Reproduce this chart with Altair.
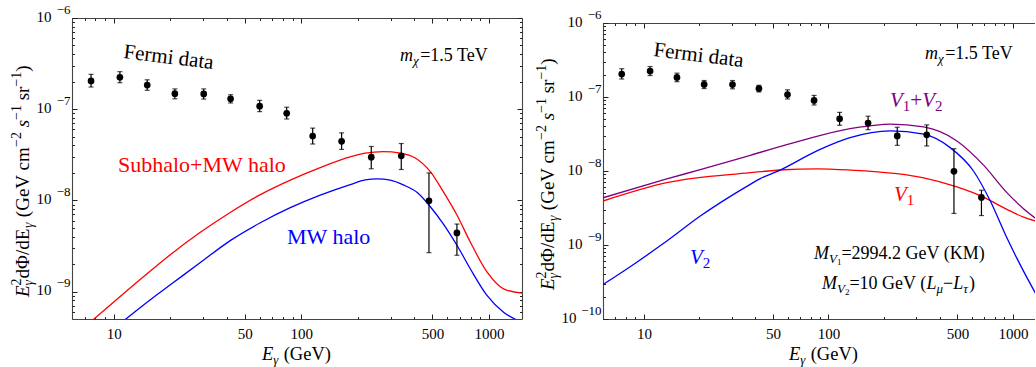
import math
import altair as alt
import pandas as pd

FONT = "Liberation Serif"
RED, BLUE, PURPLE = "#ff0000", "#0000ff", "#800080"
FRAME = "#444444"

# ---------------- data ----------------
fermi_E = [7.58, 10.8, 15.1, 21.2, 30.2, 42.0, 60.0, 83.6, 115.0, 164.0, 236.0, 341.0, 479.0, 675.0]
fermi_flux = [2.04e-7, 2.24e-7, 1.84e-7, 1.48e-7, 1.47e-7, 1.30e-7, 1.08e-7, 9.0e-8,
              5.08e-8, 4.44e-8, 2.98e-8, 3.08e-8, 9.9e-9, 4.4e-9]
fermi_lo = [1.75e-7, 1.95e-7, 1.61e-7, 1.30e-7, 1.29e-7, 1.17e-7, 9.4e-8, 7.8e-8,
            4.15e-8, 3.62e-8, 2.22e-8, 2.18e-8, 2.67e-9, 2.5e-9]
fermi_hi = [2.41e-7, 2.58e-7, 2.10e-7, 1.67e-7, 1.67e-7, 1.44e-7, 1.25e-7, 1.05e-7,
            6.2e-8, 5.5e-8, 3.9e-8, 4.2e-8, 2.0e-8, 5.5e-9]

# left panel curves
subhalo_E = [7.61, 10.99, 15.69, 19.88, 28.97, 42.4, 60.5, 87.4, 126.2, 182.4, 219.3, 273.5,
             337.0, 404.8, 487.0, 570.9, 675.0, 795.0, 976.0, 1196.0, 1500.0]
subhalo_flux = [4.72e-10, 9.06e-10, 1.68e-9, 2.50e-9, 4.46e-9, 7.51e-9, 1.156e-8, 1.67e-8,
                2.29e-8, 2.995e-8, 3.29e-8, 3.42e-8, 3.30e-8, 2.92e-8, 2.07e-8, 1.247e-8,
                6.90e-9, 3.50e-9, 1.64e-9, 1.07e-9, 9.6e-10]
mw_E = [11.22, 15.69, 20.3, 28.97, 42.4, 60.5, 87.4, 126.2, 182.4, 219.3, 254.0, 298.0,
        349.4, 415.0, 487.0, 570.9, 675.0, 795.0, 976.0, 1196.0, 1500.0]
mw_flux = [4.72e-10, 8.14e-10, 1.207e-9, 2.083e-9, 3.69e-9, 5.68e-9, 8.31e-9, 1.141e-8,
           1.49e-8, 1.674e-8, 1.72e-8, 1.665e-8, 1.479e-8, 1.216e-8, 8.52e-9, 5.53e-9,
           3.22e-9, 1.78e-9, 9.06e-10, 5.93e-10, 4.60e-10]

# right panel curves
v1v2_E = [6.0, 13.3, 20.2, 37.7, 70.3, 131.0, 168.5, 216.0, 328.0, 497.0, 693.0, 927.0,
          1141.0, 1337.0]
v1v2_flux = [4.35e-9, 7.8e-9, 1.045e-8, 1.63e-8, 2.55e-8, 3.74e-8, 4.07e-8, 4.29e-8,
             3.94e-8, 2.55e-8, 1.20e-8, 5.1e-9, 3.1e-9, 2.26e-9]
v1_E = [6.0, 13.3, 37.7, 42.7, 57.1, 86.6, 131.0, 235.0, 328.0, 497.0, 693.0, 927.0, 1141.0, 1337.0]
v1_flux = [3.93e-9, 6.95e-9, 9.5e-9, 9.8e-9, 1.04e-8, 1.07e-8, 1.03e-8, 9.2e-9, 8.1e-9,
           6.1e-9, 4.44e-9, 3.03e-9, 2.38e-9, 2.10e-9]
v2_E = [6.0, 8.78, 13.3, 20.2, 30.6, 37.7, 42.7, 54.8, 86.6, 131.0, 216.0, 328.0, 457.0,
        611.0, 754.0, 927.0, 1141.0, 1337.0]
v2_flux = [2.92e-10, 5.46e-10, 1.13e-9, 2.46e-9, 4.83e-9, 6.6e-9, 7.87e-9, 1.03e-8, 1.87e-8,
           2.82e-8, 3.48e-8, 3.14e-8, 2.07e-8, 1.0e-8, 3.93e-9, 1.25e-9, 4.43e-10, 2.14e-10]

# tick values
x_major = [10, 50, 100, 500, 1000]
x_minor = [6, 7, 8, 9, 20, 30, 40, 60, 70, 80, 90, 200, 300, 400, 600, 700, 800, 900]
yL_major = [1e-9, 1e-8, 1e-7, 1e-6]
yR_major = [1e-10, 1e-9, 1e-8, 1e-7, 1e-6]
yL_minor = [m * 10.0 ** e for e in (-10,) for m in (6, 7, 8, 9)] + \
           [m * 10.0 ** e for e in (-9, -8, -7) for m in range(2, 10)]
yR_minor = [m * 10.0 ** e for e in (-10, -9, -8, -7) for m in range(2, 10)]

fermi_df = pd.DataFrame({"E": fermi_E, "v": fermi_flux, "lo": fermi_lo, "hi": fermi_hi})

# ---------------- text helpers ----------------
W_REG = {' ': 0.25, '(': 0.333, ')': 0.333, '+': 0.564, '=': 0.564, '−': 0.564, '.': 0.25,
         '/': 0.278, 'G': 0.722, 'e': 0.444, 'V': 0.722, 'K': 0.722, 'M': 0.889, 'T': 0.611,
         'c': 0.444, 'm': 0.778, 's': 0.389, 'r': 0.333, 'd': 0.5, 'E': 0.611, 'Φ': 0.76}
W_IT = {'E': 0.611, 'M': 0.833, 'V': 0.611, 'L': 0.556, 'm': 0.722, 's': 0.389,
        'χ': 0.55, 'γ': 0.44, 'μ': 0.5, 'τ': 0.44, ' ': 0.25}


def text_width(t, size, italic):
    tbl = W_IT if italic else W_REG
    return size * sum(tbl.get(ch, 0.5) for ch in t)


def rich(segs, x0, y0, color="black", angle=0):
    a = math.radians(angle)
    ux, uy = math.cos(a), math.sin(a)
    upx, upy = math.sin(a), -math.cos(a)
    rows, d = [], 0.0
    for seg in segs:
        t, size, italic, shift = seg[:4]
        advance = seg[4] if len(seg) > 4 else True
        lead = len(t) - len(t.lstrip(" "))
        trail = len(t) - len(t.rstrip(" ")) if t.strip(" ") else 0
        core = t.strip(" ")
        d0 = d + lead * 0.25 * size
        if core:
            rows.append(dict(px=x0 + d0 * ux + shift * upx, py=y0 + d0 * uy + shift * upy,
                             text=core, size=size, color=color, italic=italic, angle=angle))
        if advance:
            d = d0 + text_width(core, size, italic) + trail * 0.25 * size
    return rows


def ytitle(x0, y0):
    M, S = 19, 14
    return rich([("E", M, True, 0), ("γ", S, True, -4, False), ("2", S, False, 8.5),
                  ("dΦ/dE", M, False, 0), ("γ", S, True, -4), (" (GeV cm", M, False, 0),
                  ("−2", S, False, 8.5), (" ", M, False, 0), ("s", M, True, 0),
                  ("−1", S, False, 8.5), (" sr", M, False, 0), ("−1", S, False, 8.5),
                  (")", M, False, 0)], x0, y0, angle=270)


def xtitle(x0, y0):
    return rich([("E", 18.5, True, 0), ("γ", 13, True, -4), (" (GeV)", 18.5, False, 0)], x0, y0)


def mchi(x0, y0):
    return rich([("m", 18, True, 0), ("χ", 13, True, -4), ("=1.5 TeV", 18, False, 0)], x0, y0)


def text_layers(rows):
    df = pd.DataFrame(rows)
    enc = dict(x=alt.X("px:Q", scale=None, axis=None), y=alt.Y("py:Q", scale=None, axis=None),
               text="text:N", size=alt.Size("size:Q", scale=None, legend=None),
               color=alt.Color("color:N", scale=None, legend=None),
               angle=alt.Angle("angle:Q", scale=None))
    base = alt.Chart(df)
    it = base.transform_filter("datum.italic").mark_text(
        align="left", baseline="alphabetic", font=FONT, fontStyle="italic").encode(**enc)
    rg = base.transform_filter("!datum.italic").mark_text(
        align="left", baseline="alphabetic", font=FONT).encode(**enc)
    return [it, rg]


def ax(**kw):
    base = dict(title=None, grid=False, labels=False, ticks=False, domain=False,
                tickColor="#222222", tickWidth=1, domainColor=FRAME, domainWidth=1.1,
                labelOverlap=False, labelFlush=False, labelBound=False)
    base.update(kw)
    return alt.Axis(**base)


def panel(W, H, ytop, xdom, ydom, y_major, y_minor, curves, rows, pad10, right_frame, anchor):
    xs = alt.Scale(type="log", domain=xdom, nice=False, range=[0, W])
    ys = alt.Scale(type="log", domain=ydom, nice=False, range=[H, ytop])
    xaxes = [
        ax(orient="bottom", values=x_major, labels=True, labelExpr="format(datum.value, 'd')",
           labelFont=FONT, labelFontSize=15, labelColor="black", labelPadding=7,
           domain=True, tickSize=0),
        ax(orient="top", offset=-H, values=x_major, ticks=True, tickSize=5),
        ax(orient="top", offset=-H, values=x_minor, ticks=True, tickSize=2.5),
        ax(orient="bottom", offset=ytop - H, values=x_major, ticks=True, tickSize=5, domain=True),
        ax(orient="bottom", offset=ytop - H, values=x_minor, ticks=True, tickSize=2.5),
    ]
    yaxes = [
        ax(orient="left", values=y_major, labels=True, labelExpr="'10'", labelFont=FONT,
           labelFontSize=15, labelColor="black", labelAlign="right", labelBaseline="middle",
           labelPadding=pad10, labelOffset=-2, domain=True, tickSize=0),
        ax(orient="left", values=y_major, labels=True,
           labelExpr="'−' + format(-round(log(datum.value) / LN10), 'd')",
           labelFont=FONT, labelFontSize=13, labelColor="black", labelAlign="right",
           labelBaseline="middle", labelPadding=2, labelOffset=-9, tickSize=0),
        ax(orient="right", offset=-W, values=y_major, ticks=True, tickSize=5),
        ax(orient="right", offset=-W, values=y_minor, ticks=True, tickSize=2.5),
    ]
    if right_frame:
        yaxes += [
            ax(orient="left", offset=-W, values=y_major, ticks=True, tickSize=5, domain=True),
            ax(orient="left", offset=-W, values=y_minor, ticks=True, tickSize=2.5),
        ]
    layers = []
    n = max(len(xaxes), len(yaxes))
    for i in range(n):
        xa = xaxes[i] if i < len(xaxes) else None
        ya = yaxes[i] if i < len(yaxes) else None
        layers.append(alt.Chart(fermi_df).mark_point(opacity=0).encode(
            x=alt.X("E:Q", scale=xs, axis=xa), y=alt.Y("v:Q", scale=ys, axis=ya)))

    cdf = pd.concat([pd.DataFrame({"E": e, "v": v, "s": name, "c": col})
                     for name, e, v, col in curves], ignore_index=True)
    for name, e, v, col in curves:
        layers.append(alt.Chart(cdf).transform_filter(alt.datum.s == name).mark_line(
            clip=True, strokeWidth=1.3, color=col, interpolate="monotone").encode(
            x=alt.X("E:Q", scale=xs, axis=None), y=alt.Y("v:Q", scale=ys, axis=None)))

    base = alt.Chart(fermi_df)
    layers.append(base.mark_rule(color="black", strokeWidth=1.2).encode(
        x=alt.X("E:Q", scale=xs, axis=None), y=alt.Y("lo:Q", scale=ys, axis=None), y2="hi:Q"))
    for f in ("lo", "hi"):
        layers.append(base.mark_tick(orient="horizontal", size=5, thickness=1.2, color="black").encode(
            x=alt.X("E:Q", scale=xs, axis=None), y=alt.Y(f + ":Q", scale=ys, axis=None)))
    layers.append(base.mark_circle(size=45, color="black", opacity=1).encode(
        x=alt.X("E:Q", scale=xs, axis=None), y=alt.Y("v:Q", scale=ys, axis=None)))

    layers += text_layers(rows)

    if anchor:
        layers.append(alt.Chart(fermi_df).mark_rule(color="white").encode(
            x=alt.value(-71), x2=alt.value(-70), y=alt.value(-17), y2=alt.value(-16)))

    return alt.layer(*layers).resolve_axis(x="independent", y="independent").properties(
        width=W, height=H)


# ---------------- left panel ----------------
WL, H = 450, 301
rows_left = []
rows_left += ytitle(-43, 279)
rows_left += xtitle(190, 342)
rows_left += rich([("Fermi data", 21, False, 0)], 51, 40, angle=7)
rows_left += mchi(328, 43)
rows_left += rich([("Subhalo+MW halo", 22, False, 0)], 46, 154, color=RED)
rows_left += rich([("MW halo", 22, False, 0)], 215, 226, color=BLUE)

left = panel(WL, H, 0, [6, 1500], [5e-10, 1e-6], yL_major, yL_minor,
             [("Subhalo+MW halo", subhalo_E, subhalo_flux, RED),
              ("MW halo", mw_E, mw_flux, BLUE)],
             rows_left, 21, True, True)

# ---------------- right panel ----------------
WR = 432
rows_right = []
rows_right += ytitle(-49, 272)
rows_right += xtitle(186, 342)
rows_right += rich([("Fermi data", 21, False, 0)], 50, 38, angle=7)
rows_right += mchi(322, 41)
rows_right += rich([("V", 21, True, 0), ("1", 15, False, -4), ("+", 21, False, 0),
                    ("V", 21, True, 0), ("2", 15, False, -4)], 287, 89, color=PURPLE)
rows_right += rich([("V", 21, True, 0), ("1", 15, False, -4)], 291, 183, color=RED)
rows_right += rich([("V", 21, True, 0), ("2", 15, False, -4)], 87, 246, color=BLUE)
rows_right += rich([("M", 18, True, 0), ("V", 13, True, -4), ("1", 9, False, -6),
                    ("=2994.2 GeV (KM)", 18, False, 0)], 211, 241)
rows_right += rich([("M", 18, True, 0), ("V", 13, True, -4), ("2", 9, False, -6),
                    ("=10 GeV (", 18, False, 0), ("L", 18, True, 0), ("μ", 13, True, -4),
                    ("−", 18, False, 0), ("L", 18, True, 0), ("τ", 13, True, -4),
                    (")", 18, False, 0)], 219, 271)

right = panel(WR, H, 5, [6, 1317], [1e-10, 1e-6], yR_major, yR_minor,
              [("V1", v1_E, v1_flux, RED),
               ("V2", v2_E, v2_flux, BLUE),
               ("V1+V2", v1v2_E, v1v2_flux, PURPLE)],
              rows_right, {"condition": {"test": "datum.value < 5e-10", "value": 27}, "value": 21},
              False, False)

chart = alt.hconcat(left, right, spacing=81, bounds="flush").properties(
    padding=0, background="white"
).configure_view(strokeWidth=0).configure_axis(grid=False)

chart.save("out.html", embed_options={"renderer": "svg", "actions": False})
